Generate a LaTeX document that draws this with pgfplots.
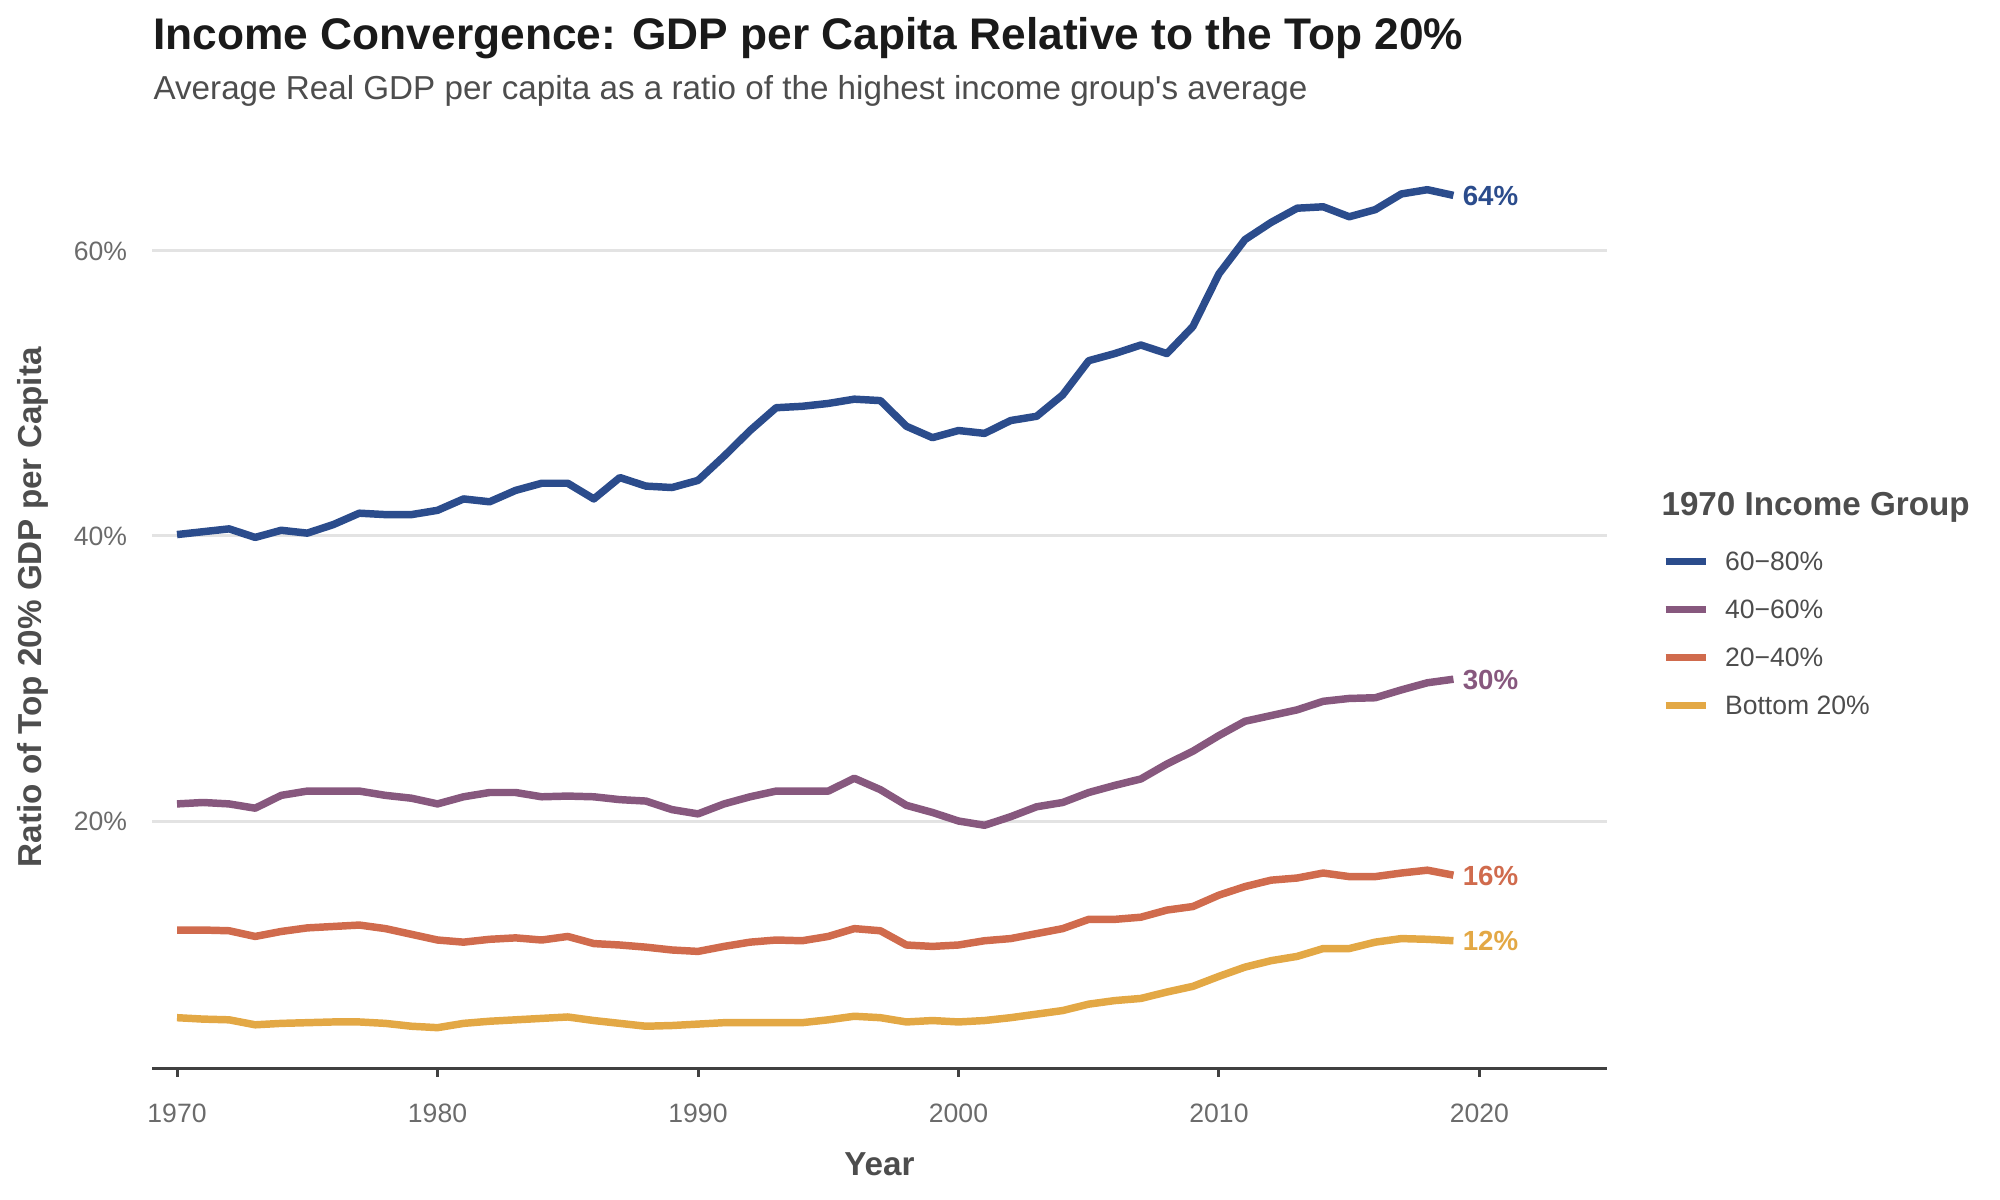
\documentclass[border=0pt]{standalone}
\usepackage{pgfplots}
\pgfplotsset{compat=1.18}
\usepackage{fontspec}
\setmainfont{Liberation Sans}

\definecolor{cblue}{HTML}{2B4C8C}
\definecolor{cpurple}{HTML}{87587E}
\definecolor{corange}{HTML}{D06B4D}
\definecolor{cyellow}{HTML}{E3A845}
\definecolor{titlecol}{HTML}{1A1A1A}
\definecolor{subcol}{HTML}{4D4D4D}
\definecolor{tickcol}{HTML}{6B6B6B}
\definecolor{gridcol}{HTML}{E3E3E3}
\definecolor{axiscol}{HTML}{404040}

\pgfplotstableread{
year v
1970 40.1
1971 40.3
1972 40.5
1973 39.9
1974 40.4
1975 40.2
1976 40.8
1977 41.6
1978 41.5
1979 41.5
1980 41.8
1981 42.6
1982 42.4
1983 43.2
1984 43.7
1985 43.7
1986 42.6
1987 44.1
1988 43.5
1989 43.4
1990 43.9
1991 45.6
1992 47.4
1993 49.0
1994 49.1
1995 49.3
1996 49.6
1997 49.5
1998 47.7
1999 46.9
2000 47.4
2001 47.2
2002 48.1
2003 48.4
2004 49.9
2005 52.3
2006 52.8
2007 53.4
2008 52.8
2009 54.7
2010 58.4
2011 60.8
2012 62.0
2013 63.0
2014 63.1
2015 62.4
2016 62.9
2017 64.0
2018 64.3
2019 63.9
}\groupA

\pgfplotstableread{
year v
1970 21.2
1971 21.3
1972 21.2
1973 20.9
1974 21.8
1975 22.1
1976 22.1
1977 22.1
1978 21.8
1979 21.6
1980 21.2
1981 21.7
1982 22.0
1983 22.0
1984 21.7
1985 21.75
1986 21.7
1987 21.5
1988 21.4
1989 20.8
1990 20.5
1991 21.2
1992 21.7
1993 22.1
1994 22.1
1995 22.1
1996 23.0
1997 22.2
1998 21.1
1999 20.6
2000 20.0
2001 19.7
2002 20.3
2003 21.0
2004 21.3
2005 22.0
2006 22.5
2007 22.95
2008 24.0
2009 24.9
2010 26.0
2011 27.0
2012 27.4
2013 27.8
2014 28.4
2015 28.6
2016 28.65
2017 29.2
2018 29.7
2019 29.95
}\groupB

\pgfplotstableread{
year v
1970 12.35
1971 12.35
1972 12.3
1973 11.9
1974 12.25
1975 12.5
1976 12.6
1977 12.7
1978 12.45
1979 12.05
1980 11.65
1981 11.5
1982 11.7
1983 11.8
1984 11.65
1985 11.9
1986 11.4
1987 11.3
1988 11.15
1989 10.95
1990 10.85
1991 11.2
1992 11.5
1993 11.65
1994 11.6
1995 11.9
1996 12.45
1997 12.3
1998 11.3
1999 11.2
2000 11.3
2001 11.6
2002 11.75
2003 12.1
2004 12.45
2005 13.1
2006 13.1
2007 13.25
2008 13.75
2009 14.0
2010 14.8
2011 15.4
2012 15.85
2013 16.0
2014 16.35
2015 16.1
2016 16.1
2017 16.35
2018 16.55
2019 16.2
}\groupC

\pgfplotstableread{
year v
1970 6.2
1971 6.1
1972 6.05
1973 5.7
1974 5.8
1975 5.85
1976 5.9
1977 5.9
1978 5.8
1979 5.6
1980 5.5
1981 5.8
1982 5.95
1983 6.05
1984 6.15
1985 6.25
1986 6.0
1987 5.8
1988 5.6
1989 5.65
1990 5.75
1991 5.85
1992 5.85
1993 5.85
1994 5.85
1995 6.05
1996 6.3
1997 6.2
1998 5.9
1999 6.0
2000 5.9
2001 6.0
2002 6.2
2003 6.45
2004 6.7
2005 7.15
2006 7.4
2007 7.55
2008 8.0
2009 8.4
2010 9.1
2011 9.75
2012 10.2
2013 10.5
2014 11.05
2015 11.05
2016 11.5
2017 11.75
2018 11.7
2019 11.6
}\groupD

\begin{document}
\begin{tikzpicture}
% page frame: 10in x 6in
\path[use as bounding box] (0,0) rectangle (722.7pt,433.62pt);

% titles
\node[anchor=base west, inner sep=0pt, text=titlecol,
      font=\bfseries\fontsize{16}{19}\selectfont] at (55.3pt,415.6pt)
  {Income Convergence: GDP per Capita Relative to the Top 20\%};
\node[anchor=base west, inner sep=0pt, text=subcol,
      font=\fontsize{12}{14}\selectfont] at (55.3pt,397.5pt)
  {Average Real GDP per capita as a ratio of the highest income group\textquotesingle s average};

% axis titles
\node[anchor=base, inner sep=0pt, text=subcol,
      font=\bfseries\fontsize{12}{14}\selectfont] at (317.8pt,8.7pt) {Year};
\node[anchor=base, rotate=90, inner sep=0pt, text=subcol,
      font=\bfseries\fontsize{12}{14}\selectfont] at (15.1pt,214.2pt)
  {Ratio of Top 20\% GDP per Capita};

% legend title
\node[anchor=base west, inner sep=0pt, text=subcol,
      font=\bfseries\fontsize{12}{14}\selectfont] at (600.2pt,247.2pt)
  {1970 Income Group};

\begin{axis}[
  at={(54.93pt,47.34pt)}, anchor=south west,
  width=525.8pt, height=333.7pt, scale only axis,
  xmin=1969.04, xmax=2024.9, ymin=2.6, ymax=67.4,
  clip=false,
  axis line style={draw=none},
  xtick={1970,1980,1990,2000,2010,2020},
  xticklabels={1970,1980,1990,2000,2010,2020},
  ytick={20,40,60},
  yticklabels={20\%,40\%,60\%},
  xtick pos=left,
  tick align=outside,
  major tick length=2.75pt,
  xtick style={draw=axiscol, line width=1.08pt},
  ytick style={draw=none},
  ymajorgrids,
  major grid style={draw=gridcol, line width=1.08pt},
  tick label style={text=tickcol, font=\fontsize{9.6}{11}\selectfont, inner sep=0pt},
  xticklabel style={anchor=base, yshift=-16.5pt},
  yticklabel style={anchor=east, xshift=-6.1pt},
  no markers,
  every axis plot/.append style={line width=2.7pt, line join=round, line cap=butt},
  legend cell align=left,
  legend image code/.code={\draw[#1] (0pt,0pt) -- (14.5pt,0pt);},
  legend style={
    at={(1.0377,0.5601)}, anchor=north west,
    draw=none, fill=none, inner sep=0pt, outer sep=0pt,
    row sep=10.48pt, column sep=5.6pt,
    nodes={inner sep=0pt, text height=6.87pt, text depth=0pt, text=subcol,
           font=\fontsize{9.6}{11}\selectfont},
  },
]
\draw[axiscol, line width=1.08pt] (rel axis cs:0,0) -- (rel axis cs:1,0);

\addplot[cblue]   table[x=year, y=v] {\groupA};
\addlegendentry{60\textminus80\%}
\addplot[cpurple] table[x=year, y=v] {\groupB};
\addlegendentry{40\textminus60\%}
\addplot[corange] table[x=year, y=v] {\groupC};
\addlegendentry{20\textminus40\%}
\addplot[cyellow] table[x=year, y=v] {\groupD};
\addlegendentry{Bottom 20\%}

% end-of-line value labels
\tikzset{endlab/.style={anchor=west, inner sep=0pt, xshift=3.2pt,
  text height=7.16pt, text depth=0pt, font=\bfseries\fontsize{10}{12}\selectfont}}
\node[endlab, text=cblue]   at (axis cs:2019,63.9)  {64\%};
\node[endlab, text=cpurple] at (axis cs:2019,29.95) {30\%};
\node[endlab, text=corange] at (axis cs:2019,16.2)  {16\%};
\node[endlab, text=cyellow] at (axis cs:2019,11.6)  {12\%};
\end{axis}
\end{tikzpicture}
\end{document}
